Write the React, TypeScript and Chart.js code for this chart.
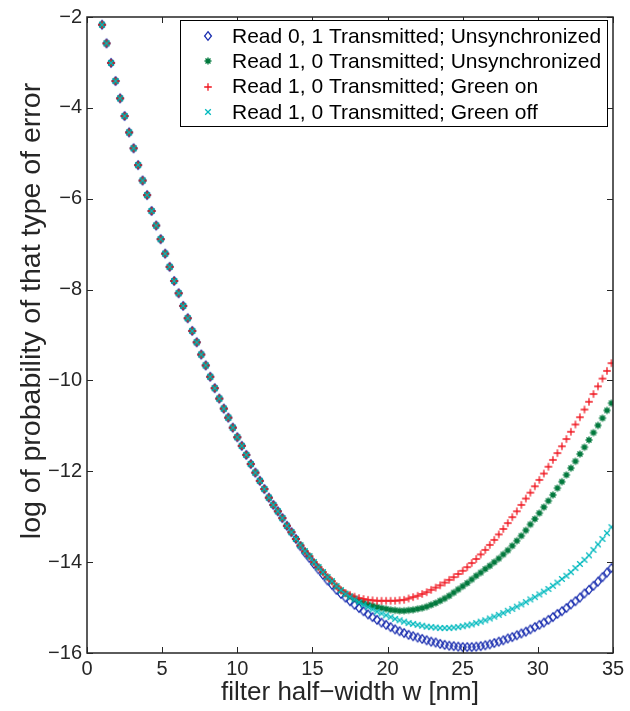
import React, { useEffect, useRef } from 'react';
import { Chart, registerables } from 'chart.js';

Chart.register(...registerables);

// Filter half-width grid [nm]
const HALF_WIDTH_NM = [
  1, 1.3, 1.6, 1.9, 2.2, 2.5, 2.8, 3.1, 3.4, 3.7,
  4, 4.3, 4.6, 4.9, 5.2, 5.5, 5.8, 6.1, 6.4, 6.7,
  7, 7.3, 7.6, 7.9, 8.2, 8.5, 8.8, 9.1, 9.4, 9.7,
  10, 10.3, 10.6, 10.9, 11.2, 11.5, 11.8, 12.1, 12.4, 12.7,
  13, 13.3, 13.6, 13.9, 14.2, 14.5, 14.8, 15.1, 15.4, 15.7,
  16, 16.3, 16.6, 16.9, 17.2, 17.5, 17.8, 18.1, 18.4, 18.7,
  19, 19.3, 19.6, 19.9, 20.2, 20.5, 20.8, 21.1, 21.4, 21.7,
  22, 22.3, 22.6, 22.9, 23.2, 23.5, 23.8, 24.1, 24.4, 24.7,
  25, 25.3, 25.6, 25.9, 26.2, 26.5, 26.8, 27.1, 27.4, 27.7,
  28, 28.3, 28.6, 28.9, 29.2, 29.5, 29.8, 30.1, 30.4, 30.7,
  31, 31.3, 31.6, 31.9, 32.2, 32.5, 32.8, 33.1, 33.4, 33.7,
  34, 34.3, 34.6, 34.9,
];

// Narrow filters: all four error types coincide (w = 1.0 .. 13.9)
const SHARED_LOG_P = [
  -2.17, -2.58, -3.01, -3.41, -3.79, -4.18, -4.54, -4.89, -5.26, -5.6,
  -5.92, -6.27, -6.59, -6.89, -7.21, -7.5, -7.81, -8.08, -8.36, -8.63,
  -8.91, -9.16, -9.43, -9.67, -9.92, -10.17, -10.4, -10.62, -10.82, -11.04,
  -11.25, -11.44, -11.64, -11.84, -12.03, -12.21, -12.39, -12.58, -12.74, -12.88,
  -13.03, -13.2, -13.34, -13.49,
];

// w = 14.2 .. 16.9
const READ10_MID = [-13.63, -13.76, -13.87, -14.0, -14.11, -14.22, -14.33, -14.42, -14.53, -14.62];
const READ01_MID = [-13.65, -13.79, -13.91, -14.04, -14.16, -14.28, -14.4, -14.5, -14.61, -14.7];

// w = 17.2 .. 34.9
const READ01_UNSYNC_TAIL = [
  -14.78, -14.86, -14.94, -15.01, -15.08, -15.15, -15.21, -15.27, -15.33, -15.38,
  -15.43, -15.48, -15.52, -15.56, -15.6, -15.63, -15.66, -15.69, -15.72, -15.75,
  -15.77, -15.8, -15.82, -15.84, -15.85, -15.86, -15.87, -15.87, -15.87, -15.86,
  -15.85, -15.83, -15.81, -15.78, -15.75, -15.72, -15.68, -15.65, -15.61, -15.57,
  -15.53, -15.48, -15.43, -15.38, -15.33, -15.27, -15.21, -15.14, -15.08, -15.01,
  -14.93, -14.86, -14.78, -14.69, -14.61, -14.52, -14.43, -14.33, -14.23, -14.13,
];
const READ10_UNSYNC_TAIL = [
  -14.69, -14.75, -14.8, -14.85, -14.89, -14.93, -14.96, -14.99, -15.01, -15.03,
  -15.05, -15.06, -15.07, -15.07, -15.06, -15.05, -15.03, -15.01, -14.98, -14.94,
  -14.9, -14.85, -14.8, -14.74, -14.67, -14.6, -14.53, -14.46, -14.38, -14.3,
  -14.23, -14.15, -14.08, -14.0, -13.92, -13.83, -13.74, -13.64, -13.53, -13.42,
  -13.3, -13.17, -13.05, -12.92, -12.79, -12.65, -12.52, -12.37, -12.23, -12.08,
  -11.93, -11.78, -11.62, -11.47, -11.31, -11.15, -10.99, -10.83, -10.66, -10.5,
];
const READ10_GREEN_ON_TAIL = [
  -14.68, -14.72, -14.76, -14.79, -14.81, -14.83, -14.84, -14.85, -14.85, -14.85,
  -14.85, -14.85, -14.84, -14.83, -14.8, -14.77, -14.74, -14.7, -14.66, -14.61,
  -14.56, -14.51, -14.45, -14.39, -14.33, -14.26, -14.19, -14.11, -14.02, -13.93,
  -13.83, -13.73, -13.62, -13.51, -13.39, -13.27, -13.14, -13.01, -12.88, -12.74,
  -12.6, -12.47, -12.33, -12.19, -12.05, -11.9, -11.75, -11.6, -11.45, -11.29,
  -11.13, -10.97, -10.81, -10.64, -10.47, -10.3, -10.13, -9.96, -9.79, -9.62,
];
const READ10_GREEN_OFF_TAIL = [
  -14.7, -14.76, -14.82, -14.88, -14.94, -14.99, -15.04, -15.09, -15.13, -15.17,
  -15.21, -15.25, -15.28, -15.31, -15.34, -15.36, -15.38, -15.4, -15.42, -15.43,
  -15.44, -15.45, -15.45, -15.45, -15.44, -15.43, -15.41, -15.39, -15.37, -15.34,
  -15.31, -15.28, -15.24, -15.2, -15.16, -15.12, -15.07, -15.03, -14.98, -14.93,
  -14.88, -14.82, -14.77, -14.71, -14.65, -14.59, -14.52, -14.45, -14.37, -14.3,
  -14.22, -14.13, -14.04, -13.95, -13.85, -13.73, -13.61, -13.49, -13.36, -13.23,
];

const SERIES_LABELS = [
  'Read 0, 1 Transmitted; Unsynchronized',
  'Read 1, 0 Transmitted; Unsynchronized',
  'Read 1, 0 Transmitted; Green on',
  'Read 1, 0 Transmitted; Green off',
];

const X_TICKS = [0, 5, 10, 15, 20, 25, 30, 35];
const Y_TICKS = [-16, -14, -12, -10, -8, -6, -4, -2];

const Y_TITLE = 'log of probability of that type of error';
const X_TITLE = 'filter half\u2212width w [nm]';

const FONT = "'Liberation Sans', Arial, Helvetica, sans-serif";
const INK = '#262626';

type MarkerKind = 'diamond' | 'star' | 'plus' | 'cross';

function makeMarker(kind: MarkerKind, color: string, lw: number): HTMLCanvasElement {
  const c = document.createElement('canvas');
  c.width = 12;
  c.height = 12;
  const g = c.getContext('2d')!;
  g.strokeStyle = color;
  g.lineWidth = lw;
  g.lineCap = 'butt';
  const m = 6;
  g.beginPath();
  if (kind === 'diamond') {
    g.moveTo(m, m - 4.3);
    g.lineTo(m + 3.4, m);
    g.lineTo(m, m + 4.3);
    g.lineTo(m - 3.4, m);
    g.closePath();
  } else if (kind === 'plus') {
    g.moveTo(m - 3.8, m);
    g.lineTo(m + 3.8, m);
    g.moveTo(m, m - 3.8);
    g.lineTo(m, m + 3.8);
  } else if (kind === 'cross') {
    const d = 2.8;
    g.moveTo(m - d, m - d);
    g.lineTo(m + d, m + d);
    g.moveTo(m + d, m - d);
    g.lineTo(m - d, m + d);
  } else {
    const r = 3.5;
    const d = 2.5;
    g.moveTo(m - r, m);
    g.lineTo(m + r, m);
    g.moveTo(m, m - r);
    g.lineTo(m, m + r);
    g.moveTo(m - d, m - d);
    g.lineTo(m + d, m + d);
    g.moveTo(m + d, m - d);
    g.lineTo(m - d, m + d);
  }
  g.stroke();
  return c;
}

function toPoints(ys: number[]) {
  return ys.map((y, i) => ({ x: HALF_WIDTH_NM[i], y }));
}

const minusSign = (v: number | string) => String(v).replace('-', '\u2212');

export default function App() {
  const canvasRef = useRef<HTMLCanvasElement | null>(null);

  useEffect(() => {
    document.body.style.margin = '0';
    const canvas = canvasRef.current;
    if (!canvas) return;

    const markers = [
      makeMarker('diamond', 'rgb(25,45,175)', 1.3),
      makeMarker('star', 'rgb(0,120,60)', 1.4),
      makeMarker('plus', 'rgb(240,20,30)', 1.3),
      makeMarker('cross', 'rgb(0,185,190)', 1.3),
    ];

    const seriesY = [
      [...SHARED_LOG_P, ...READ01_MID, ...READ01_UNSYNC_TAIL],
      [...SHARED_LOG_P, ...READ10_MID, ...READ10_UNSYNC_TAIL],
      [...SHARED_LOG_P, ...READ10_MID, ...READ10_GREEN_ON_TAIL],
      [...SHARED_LOG_P, ...READ10_MID, ...READ10_GREEN_OFF_TAIL],
    ];

    const frameAndLegend = {
      id: 'frameAndLegend',
      afterDraw(chart: any) {
        const { ctx, chartArea: a, scales } = chart;
        const tick = 6;
        ctx.save();
        ctx.strokeStyle = INK;
        ctx.lineWidth = 1;
        ctx.beginPath();
        for (const t of X_TICKS) {
          const px = Math.round(scales.x.getPixelForValue(t)) + 0.5;
          ctx.moveTo(px, a.bottom);
          ctx.lineTo(px, a.bottom - tick);
          ctx.moveTo(px, a.top);
          ctx.lineTo(px, a.top + tick);
        }
        for (const t of Y_TICKS) {
          const py = Math.round(scales.y.getPixelForValue(t)) + 0.5;
          ctx.moveTo(a.left, py);
          ctx.lineTo(a.left + tick, py);
          ctx.moveTo(a.right, py);
          ctx.lineTo(a.right - tick, py);
        }
        ctx.stroke();
        ctx.lineWidth = 1.5;
        ctx.strokeRect(a.left, a.top, a.right - a.left, a.bottom - a.top);

        // y-axis label
        ctx.save();
        ctx.translate(32, 311);
        ctx.rotate(-Math.PI / 2);
        ctx.font = `28.5px ${FONT}`;
        ctx.fillStyle = INK;
        ctx.textAlign = 'center';
        ctx.textBaseline = 'middle';
        ctx.fillText(Y_TITLE, 0, 0);
        ctx.restore();

        // legend box in the upper right of the axes
        const bx = 180.5;
        const by = 20.5;
        const bw = 427;
        const bh = 106;
        ctx.fillStyle = '#ffffff';
        ctx.fillRect(bx, by, bw, bh);
        ctx.lineWidth = 1;
        ctx.strokeStyle = '#000000';
        ctx.strokeRect(bx, by, bw, bh);
        ctx.font = `21px ${FONT}`;
        ctx.fillStyle = '#000000';
        ctx.textBaseline = 'middle';
        ctx.textAlign = 'left';
        SERIES_LABELS.forEach((label, i) => {
          const cy = 36 + i * 25.3;
          const mk = markers[i];
          ctx.drawImage(mk, 208 - mk.width / 2, Math.round(cy) - mk.height / 2);
          ctx.fillText(label, 232, cy + 1);
        });
        ctx.restore();
      },
    };

    const orders = [4, 3, 2, 1];
    const chart = new Chart(canvas, {
      type: 'scatter',
      data: {
        datasets: seriesY.map((ys, i) => ({
          label: SERIES_LABELS[i],
          data: toPoints(ys),
          showLine: false,
          pointStyle: markers[i] as any,
          pointRadius: 4,
          order: orders[i],
        })),
      },
      options: {
        animation: false,
        responsive: false,
        devicePixelRatio: 1,
        layout: { padding: { left: 0, top: 14, right: 17, bottom: 0 } },
        plugins: {
          legend: { display: false },
          tooltip: { enabled: false },
        },
        scales: {
          x: {
            type: 'linear',
            min: 0,
            max: 35,
            afterFit: (s: any) => {
              s.height = 58;
            },
            afterBuildTicks: (s: any) => {
              s.ticks = X_TICKS.map((v) => ({ value: v }));
            },
            grid: { display: false, drawTicks: false },
            border: { display: false },
            ticks: {
              color: INK,
              padding: 4,
              font: { family: FONT, size: 20 },
              maxRotation: 0,
              callback: (v: any) => minusSign(v),
            },
            title: {
              display: true,
              text: X_TITLE,
              color: INK,
              font: { family: FONT, size: 26 },
              padding: { top: 0, bottom: 3 },
            },
          },
          y: {
            type: 'linear',
            min: -16,
            max: -2,
            afterFit: (s: any) => {
              s.width = 87;
            },
            afterBuildTicks: (s: any) => {
              s.ticks = Y_TICKS.map((v) => ({ value: v }));
            },
            grid: { display: false, drawTicks: false },
            border: { display: false },
            ticks: {
              color: INK,
              padding: 5,
              font: { family: FONT, size: 20 },
              callback: (v: any) => minusSign(v),
            },
            title: { display: false },
          },
        },
      },
      plugins: [frameAndLegend],
    } as any);

    return () => chart.destroy();
  }, []);

  return (
    <div style={{ width: 630, height: 711, background: '#ffffff' }}>
      <canvas ref={canvasRef} width={630} height={711} style={{ display: 'block' }} />
    </div>
  );
}
